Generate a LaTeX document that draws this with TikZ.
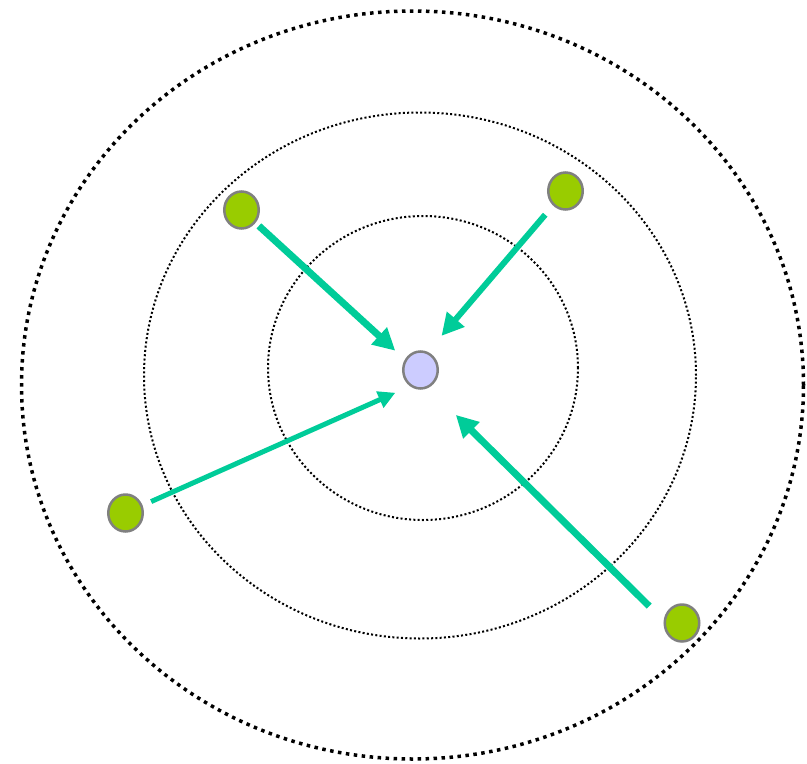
\documentclass[tikz,border=0pt]{standalone}
\usetikzlibrary{arrows.meta,shapes.geometric}
\definecolor{arrowc}{HTML}{00CC99}
\definecolor{nodegreen}{HTML}{99CC00}
\definecolor{nodeblue}{HTML}{CCCCFF}
\definecolor{nodeedge}{HTML}{808080}
\tikzset{
  outerring/.style={draw=black, line width=3.5pt, dash pattern=on 3.5pt off 4.5pt},
  innerring/.style={draw=black, line width=2pt, dash pattern=on 2pt off 2.3pt},
  dotnode/.style={ellipse, draw=nodeedge, line width=2.5pt, inner sep=0pt,
                  minimum width=34.5pt, minimum height=37pt},
  gnode/.style={dotnode, fill=nodegreen},
  cnode/.style={dotnode, fill=nodeblue},
  arr/.style={draw=arrowc, -{Triangle[length=22pt,width=22pt]}},
  arrsmall/.style={draw=arrowc, -{Triangle[length=17pt,width=17pt]}}
}
\begin{document}
\begin{tikzpicture}[x=1pt,y=-1pt]
\useasboundingbox (0,0) rectangle (807,764);
% rings
\draw[outerring] (412.5,385) ellipse [x radius=391pt, y radius=374pt];
\draw[innerring] (420,375.5) ellipse [x radius=276pt, y radius=263pt];
\draw[innerring] (423,368) ellipse [x radius=155pt, y radius=152pt];
% nodes
\node[cnode] (c) at (420.5,370) {};
\node[gnode] (g1) at (241.5,210) {};
\node[gnode] (g2) at (565.5,191) {};
\node[gnode] (g3) at (125.5,513) {};
\node[gnode] (g4) at (682,623) {};
% arrows
\draw[arr, line width=7pt, shorten <=4.5pt, shorten >=13pt] (g1) -- (c.146);
\draw[arr, line width=6pt, shorten <=12pt, shorten >=21pt] (g2) -- (c.68);
\draw[arrsmall, line width=5pt, shorten <=9.4pt, shorten >=16pt] (g3) -- (c.237);
\draw[arr, line width=7pt, shorten <=20.3pt, shorten >=38.5pt] (g4.172) -- (c.294);
\end{tikzpicture}
\end{document}
